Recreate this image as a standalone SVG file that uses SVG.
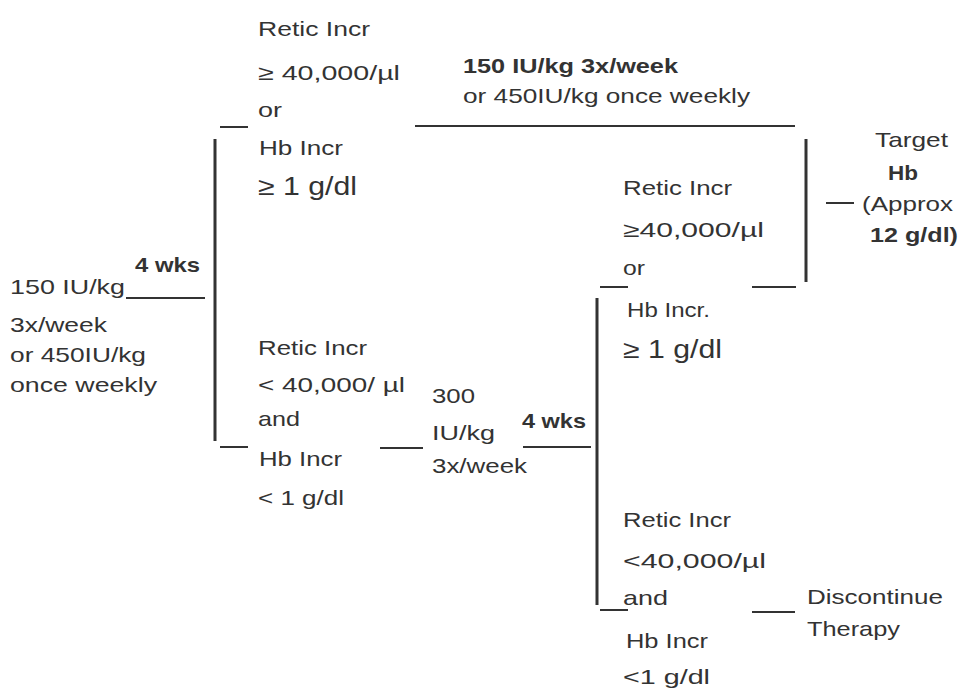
<svg xmlns="http://www.w3.org/2000/svg" width="962" height="692" viewBox="0 0 962 692">
<style>
text{font-family:"Liberation Sans",Arial,sans-serif;font-size:21px;fill:#333}
.b{font-weight:bold}
.big{font-size:25px}
.ln{stroke:#333;stroke-width:2;fill:none}
.v{stroke:#333;stroke-width:3;fill:none}
</style>
<rect width="962" height="692" fill="#fff"/>
<g id="connectors">
<line class="ln" x1="126" y1="298" x2="205" y2="298"/>
<line class="v" x1="215" y1="139" x2="215" y2="441"/>
<line class="ln" x1="220" y1="127" x2="248" y2="127"/>
<line class="ln" x1="220" y1="447" x2="248" y2="447"/>
<line class="ln" x1="415" y1="126" x2="795" y2="126"/>
<line class="v" x1="806" y1="139" x2="806" y2="282"/>
<line class="ln" x1="752" y1="287" x2="796" y2="287"/>
<line class="ln" x1="600" y1="287" x2="628" y2="287"/>
<line class="ln" x1="826" y1="203" x2="854" y2="203"/>
<line class="ln" x1="380" y1="448" x2="423" y2="448"/>
<line class="ln" x1="523" y1="447" x2="591" y2="447"/>
<line class="v" x1="597" y1="298" x2="597" y2="605"/>
<line class="ln" x1="600" y1="610" x2="628" y2="610"/>
<line class="ln" x1="752" y1="612" x2="795" y2="612"/>
</g>
<g id="start">
<text x="10" y="294" textLength="115" lengthAdjust="spacingAndGlyphs">150 IU/kg</text>
<text x="10" y="332" textLength="97" lengthAdjust="spacingAndGlyphs">3x/week</text>
<text x="10" y="362" textLength="136" lengthAdjust="spacingAndGlyphs">or 450IU/kg</text>
<text x="10" y="392" textLength="147" lengthAdjust="spacingAndGlyphs">once weekly</text>
</g>
<g id="wks1">
<text class="b" x="135" y="272" textLength="65" lengthAdjust="spacingAndGlyphs">4 wks</text>
</g>
<g id="response1">
<text x="258" y="36" textLength="112" lengthAdjust="spacingAndGlyphs">Retic Incr</text>
<text x="258" y="80" textLength="142" lengthAdjust="spacingAndGlyphs">≥ 40,000/µl</text>
<text x="258" y="117" textLength="24" lengthAdjust="spacingAndGlyphs">or</text>
<text x="259" y="155" textLength="84" lengthAdjust="spacingAndGlyphs">Hb Incr</text>
<text class="big" x="258" y="195" textLength="99" lengthAdjust="spacingAndGlyphs">≥ 1 g/dl</text>
</g>
<g id="maintain">
<text class="b" x="463" y="73" textLength="215" lengthAdjust="spacingAndGlyphs">150 IU/kg 3x/week</text>
<text x="463" y="103" textLength="287" lengthAdjust="spacingAndGlyphs">or 450IU/kg once weekly</text>
</g>
<g id="target">
<text x="875" y="147" textLength="73" lengthAdjust="spacingAndGlyphs">Target</text>
<text class="b" x="888" y="180" textLength="30" lengthAdjust="spacingAndGlyphs">Hb</text>
<text x="862" y="211" textLength="91" lengthAdjust="spacingAndGlyphs">(Approx</text>
<text class="b" x="870" y="242" textLength="88" lengthAdjust="spacingAndGlyphs">12 g/dl)</text>
</g>
<g id="noresponse1">
<text x="258" y="355" textLength="109" lengthAdjust="spacingAndGlyphs">Retic Incr</text>
<text x="258" y="392" textLength="147" lengthAdjust="spacingAndGlyphs">&lt; 40,000/ µl</text>
<text x="258" y="426" textLength="42" lengthAdjust="spacingAndGlyphs">and</text>
<text x="259" y="466" textLength="83" lengthAdjust="spacingAndGlyphs">Hb Incr</text>
<text x="258" y="505" textLength="86" lengthAdjust="spacingAndGlyphs">&lt; 1 g/dl</text>
</g>
<g id="increase">
<text x="432" y="403" textLength="43" lengthAdjust="spacingAndGlyphs">300</text>
<text x="432" y="440" textLength="63" lengthAdjust="spacingAndGlyphs">IU/kg</text>
<text x="432" y="473" textLength="95" lengthAdjust="spacingAndGlyphs">3x/week</text>
</g>
<g id="wks2">
<text class="b" x="522" y="428" textLength="64" lengthAdjust="spacingAndGlyphs">4 wks</text>
</g>
<g id="response2">
<text x="623" y="195" textLength="109" lengthAdjust="spacingAndGlyphs">Retic Incr</text>
<text x="623" y="237" textLength="141" lengthAdjust="spacingAndGlyphs">≥40,000/µl</text>
<text x="623" y="275" textLength="22" lengthAdjust="spacingAndGlyphs">or</text>
<text x="627" y="317" textLength="83" lengthAdjust="spacingAndGlyphs">Hb Incr.</text>
<text class="big" x="623" y="358" textLength="99" lengthAdjust="spacingAndGlyphs">≥ 1 g/dl</text>
</g>
<g id="noresponse2">
<text x="623" y="527" textLength="108" lengthAdjust="spacingAndGlyphs">Retic Incr</text>
<text x="623" y="568" textLength="143" lengthAdjust="spacingAndGlyphs">&lt;40,000/µl</text>
<text x="623" y="605" textLength="45" lengthAdjust="spacingAndGlyphs">and</text>
<text x="626" y="648" textLength="82" lengthAdjust="spacingAndGlyphs">Hb Incr</text>
<text x="623" y="684" textLength="87" lengthAdjust="spacingAndGlyphs">&lt;1 g/dl</text>
</g>
<g id="discontinue">
<text x="807" y="604" textLength="136" lengthAdjust="spacingAndGlyphs">Discontinue</text>
<text x="807" y="636" textLength="93" lengthAdjust="spacingAndGlyphs">Therapy</text>
</g>
</svg>
